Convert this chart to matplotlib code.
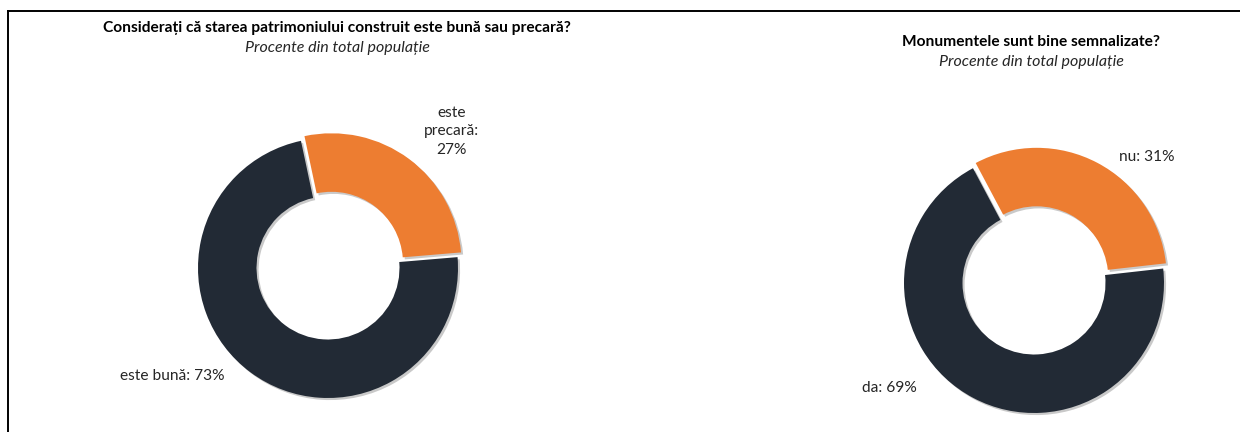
import matplotlib
matplotlib.use('Agg')
import matplotlib.pyplot as plt
import matplotlib.patheffects as pe
from matplotlib.lines import Line2D

# ====== data ======
left_title = "Considerați că starea patrimoniului construit este bună sau precară?"
left_labels = ["este\nprecară:\n27%", "este bună: 73%"]
left_values = [27, 73]

right_title = "Monumentele sunt bine semnalizate?"
right_labels = ["nu: 31%", "da: 69%"]
right_values = [31, 69]

subtitle = "Procente din total populație"
colors = ['#ED7D31', '#222A35']

plt.rcParams['font.family'] = ['Lato', 'DejaVu Sans']

W, H = 1240, 432
fig = plt.figure(figsize=(W / 100, H / 100), dpi=100)
fig.patch.set_facecolor('white')

# chenar sus + stanga
fig.add_artist(Line2D([8 / W, 1.0], [1 - 11 / H, 1 - 11 / H], color='black', lw=1.4))
fig.add_artist(Line2D([8 / W, 8 / W], [1 - 11 / H, 0.0], color='black', lw=1.4))


def donut(cx, cy, r, values, labels, startangle, label_pos, title, title_xy):
    half = 1.2 * r
    ax = fig.add_axes([(cx - half) / W, (H - cy - half) / H, 2 * half / W, 2 * half / H])
    wedges, _ = ax.pie(values, colors=colors, startangle=startangle, counterclock=False,
                       explode=[0.045, 0], radius=1.0,
                       wedgeprops=dict(width=0.45, linewidth=0))
    for w in wedges:
        w.set_path_effects([pe.SimplePatchShadow(offset=(1.5, -1.5), shadow_rgbFace='#888888', alpha=0.45),
                            pe.Normal()])
    ax.set_xlim(-1.2, 1.2)
    ax.set_ylim(-1.2, 1.2)
    ax.set_aspect('equal')
    ax.axis('off')
    for lab, (lx, ly) in zip(labels, label_pos):
        ax.text(lx, ly, lab, ha='center', va='center', fontsize=11.2, color='#262626',
                linespacing=1.45, clip_on=False)
    tx, ty = title_xy
    fig.text(tx / W, 1 - ty / H, title, ha='center', va='center', fontsize=11.2,
             fontweight='bold', color='black')
    fig.text(tx / W, 1 - (ty + 20) / H, subtitle, ha='center', va='center', fontsize=11.5,
             style='italic', color='#262626')


donut(328, 268, 130, left_values, left_labels, 102,
      [(0.95, 1.05), (-1.2, -0.83)], left_title, (337, 28))
donut(1034, 283, 130, right_values, right_labels, 118,
      [(0.87, 0.97), (-1.11, -0.81)], right_title, (1031, 42))

plt.savefig('out.png', dpi=100, facecolor='white')
